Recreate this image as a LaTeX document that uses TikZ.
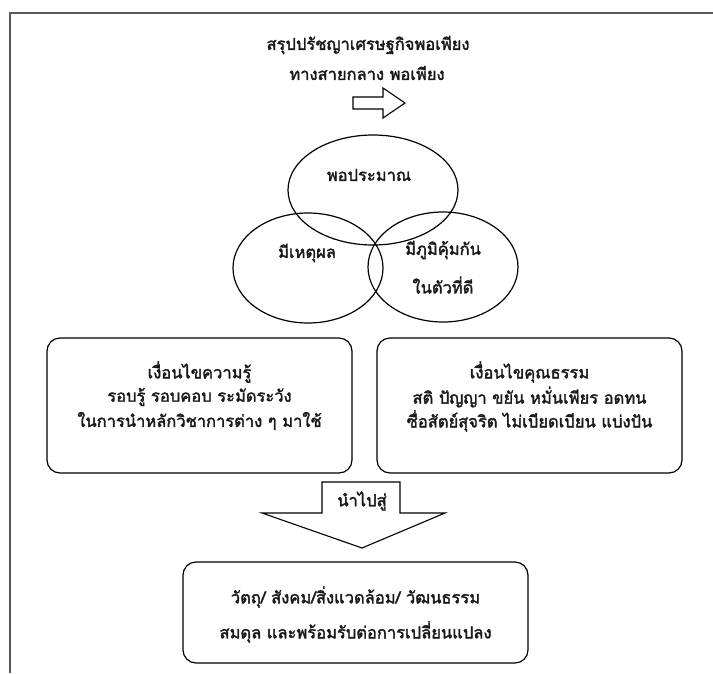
\documentclass[tikz,border=0pt]{standalone}
\usepackage{fontspec}
\newfontfamily\thaifont[Script=Thai,FakeBold=2]{Loma}
\usetikzlibrary{shapes.geometric}
\begin{document}
\begin{tikzpicture}[x=1pt,y=-1pt,
  frame/.style={draw=black!65,line width=2.2pt},
  ell/.style={draw,ellipse,line width=1.2pt,inner sep=0pt},
  rbox/.style={draw,rounded corners=13pt,line width=1.2pt},
  shp/.style={draw,line width=1.1pt,line join=miter},
  txt/.style={font=\thaifont\fontsize{16.5}{19}\selectfont,text=black!90,inner sep=0pt}]
\useasboundingbox (0,0) rectangle (713,673);
\draw[frame] (10,673) -- (10,13) -- (713,13);
% title
\node[txt] (t1) at (368,45) {สรุปปรัชญาเศรษฐกิจพอเพียง};
\node[txt] (t2) at (367,73) {ทางสายกลาง พอเพียง};
% right arrow
\draw[shp] (353,97) -- (383,97) -- (383,88) -- (405,103) -- (383,118) -- (383,109) -- (353,109) -- cycle;
% venn
\node[ell,minimum width=170pt,minimum height=110pt] (ctop) at (373,190) {};
\node[ell,minimum width=150pt,minimum height=110pt] (cleft) at (308,268) {};
\node[ell,minimum width=150pt,minimum height=110pt] (cright) at (443,267) {};
\node[txt] (l1) at (369,175) {พอประมาณ};
\node[txt] (l2) at (307,253) {มีเหตุผล};
\node[txt] (l3) at (443,250) {มีภูมิคุ้มกัน};
\node[txt] (l4) at (443,285) {ในตัวที่ดี};
% condition boxes
\draw[rbox] (47,338) rectangle (352,473);
\draw[rbox] (377,338) rectangle (682,473);
\node[txt] (k1) at (199.5,372) {เงื่อนไขความรู้};
\node[txt] (k2) at (199.5,397) {รอบรู้ รอบคอบ ระมัดระวัง};
\node[txt] (k3) at (199.5,421) {ในการนำหลักวิชาการต่าง ๆ มาใช้};
\node[txt] (m1) at (529.5,372) {เงื่อนไขคุณธรรม};
\node[txt] (m2) at (529.5,397) {สติ ปัญญา ขยัน หมั่นเพียร อดทน};
\node[txt] (m3) at (529.5,421) {ซื่อสัตย์สุจริต ไม่เบียดเบียน แบ่งปัน};
% down arrow
\draw[shp] (322,482) -- (400,482) -- (400,513) -- (445,513) -- (362,548) -- (262,513) -- (322,513) -- cycle;
\node[txt] (a1) at (362,501) {นำไปสู่};
% result box
\draw[rbox] (183,562) rectangle (528,663);
\node[txt] (r1) at (355.5,597) {วัตถุ/ สังคม/สิ่งแวดล้อม/ วัฒนธรรม};
\node[txt] (r2) at (355.5,632) {สมดุล และพร้อมรับต่อการเปลี่ยนแปลง};
\end{tikzpicture}
\end{document}
